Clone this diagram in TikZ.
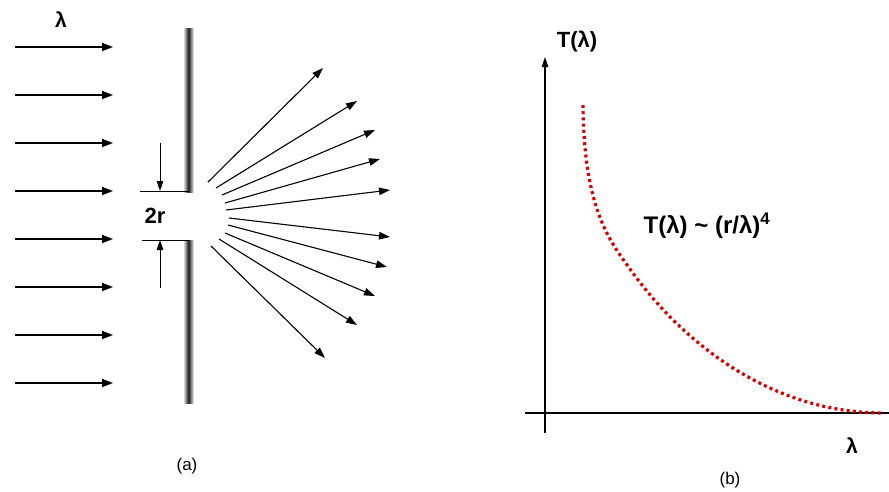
\documentclass[tikz,border=0pt]{standalone}
\usepackage{fontspec}
\setmainfont{Liberation Sans}
\usetikzlibrary{arrows.meta}
\begin{document}
\begin{tikzpicture}[x=1pt,y=-1pt,
  ray/.style={line width=1.3pt,-{Triangle[length=11pt,width=8pt]}},
  thin ray/.style={line width=1.1pt,-{Triangle[length=11pt,width=7.5pt]}},
  dimarrow/.style={line width=1pt,-{Triangle[length=10pt,width=6.5pt]}},
  lbl/.style={font=\bfseries\fontsize{22}{22}\selectfont, inner sep=0pt},
  caption/.style={font=\fontsize{17}{17}\selectfont, inner sep=0pt},
  axis/.style={line width=1.1pt}]
\useasboundingbox (0,0) rectangle (889,491);
% incoming rays
\foreach \y [count=\i] in {47,95,143,191,239,287,335,383}{
  \coordinate (s\i) at (15,\y);
  \coordinate (e\i) at (113,\y);
  \draw[ray] (s\i) -- (e\i);
}
\node[lbl, font=\bfseries\fontsize{21}{21}\selectfont] (lam) at (61,20) {λ};
% barrier
\shade[left color=white, right color=white, middle color=black!90] (183,28) rectangle (194,192);
\shade[left color=white, right color=white, middle color=black!90] (183,240) rectangle (194,403);
% dimension lines
\coordinate (t1) at (140,191); \coordinate (t2) at (189,191);
\coordinate (b1) at (142,240); \coordinate (b2) at (189,240);
\draw[line width=1pt] (t1) -- (t2);
\draw[line width=1pt] (b1) -- (b2);
\coordinate (da) at (160,143); \coordinate (db) at (160,191);
\coordinate (ua) at (160,288); \coordinate (ub) at (160,240);
\draw[dimarrow] (da) -- (db);
\draw[dimarrow] (ua) -- (ub);
\node[lbl] (tworr) at (155,216) {2r};
% scattered rays
\foreach \sx/\sy/\ex/\ey [count=\i] in {
  208/182/323/68, 216/188/357/101, 222/195/375/130, 225/203/380/159,
  226/210/390/190, 229/218/390/237, 228/225/387/267, 225/233/375/296,
  219/239/357/325, 211/246/325/358}{
  \coordinate (p\i) at (\sx,\sy);
  \coordinate (q\i) at (\ex,\ey);
  \draw[thin ray] (p\i) -- (q\i);
}
\node[caption] (a) at (187,466) {(a)};
% graph (b)
\coordinate (yo) at (545,433); \coordinate (yt) at (545,57);
\coordinate (xo) at (525,413); \coordinate (xt) at (889,413);
\draw[axis,-{Triangle[length=10pt,width=6.5pt]}] (yo) -- (yt);
\draw[axis] (xo) -- (xt);
\node[lbl] (tl) at (577,42) {T(λ)};
\node[lbl, font=\bfseries\fontsize{21}{21}\selectfont] (xl) at (852,446) {λ};
\node[caption] (b) at (730,480) {(b)};
\coordinate (c0) at (583,105); \coordinate (c1) at (630,269); \coordinate (c2) at (883,413);
\draw[red!85!black, line width=3.2pt, dash pattern=on 3pt off 3.2pt]
  (c0) .. controls (584,210) and (610,241) .. (c1)
       .. controls (690,353) and (780,413) .. (c2);
\node[lbl, font=\bfseries\fontsize{24}{24}\selectfont] (f) at (707,226) {T(λ) \textasciitilde{} (r/λ)\textsuperscript{4}};
\end{tikzpicture}
\end{document}
